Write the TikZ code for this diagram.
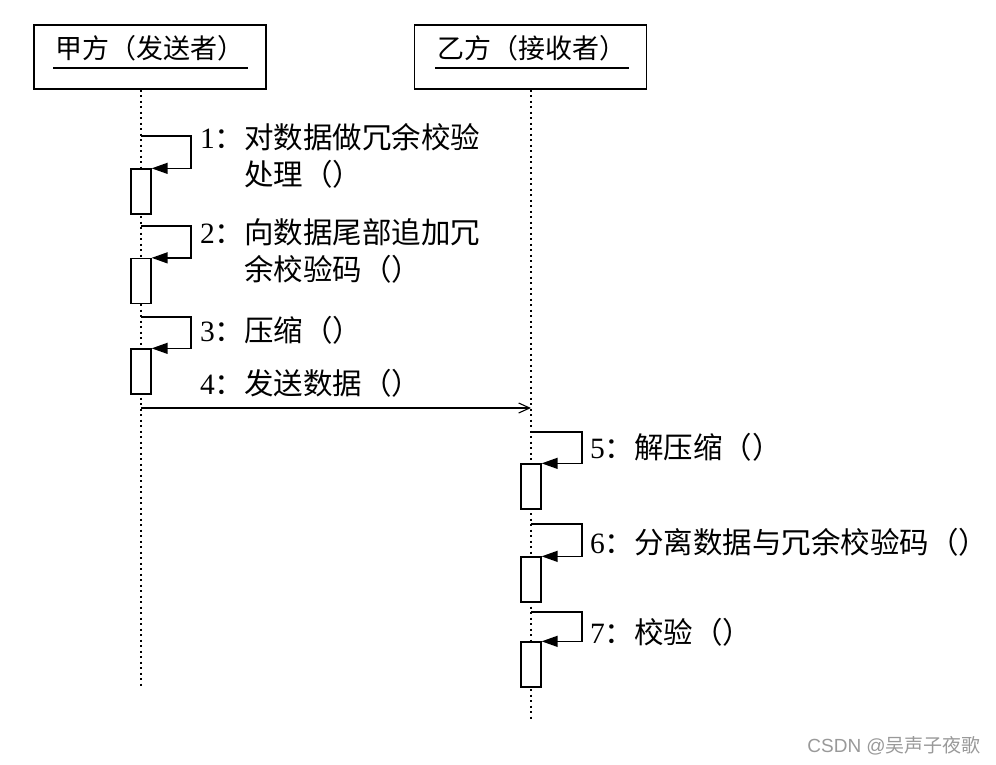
\documentclass[tikz,border=0pt]{standalone}
\usepackage{fontspec}
\setmainfont{Liberation Serif}
\newfontfamily\cjk{Noto Sans CJK SC}
\newfontfamily\wmfont{Liberation Sans}
\usetikzlibrary{arrows.meta}
\tikzset{
  actor/.style={draw, line width=1.4pt, minimum width=232pt, minimum height=64pt, inner sep=0pt},
  actortext/.style={anchor=base, inner sep=0pt, font=\fontsize{27}{37}\selectfont},
  lifeline/.style={line width=1.3pt, dash pattern=on 2pt off 3.5pt},
  actbox/.style={draw, fill=white, line width=1.3pt, minimum width=20pt, minimum height=45pt, inner sep=0pt},
  selfmsg/.style={line width=1.4pt, -{Triangle[length=16pt,width=11pt]}},
  msg/.style={line width=1.1pt, -{Straight Barb[length=11pt,width=10pt]}},
  lbl/.style={anchor=base west, inner sep=0pt, font=\fontsize{29.5}{37}\selectfont},
  uline/.style={line width=1.5pt}
}
\begin{document}
\begin{tikzpicture}[x=1pt,y=-1pt]
\useasboundingbox (0,0) rectangle (996,764);
% actors
\node[actor] (a1) at (150,57) {};
\node[actor] (a2) at (530.5,57) {};
\node[actortext] (t1) at (150,58) {{\cjk 甲方（发送者）}};
\node[actortext] (t2) at (532,58) {{\cjk 乙方（接收者）}};
\draw[uline] (53,68) -- (248,68);
\draw[uline] (435,68) -- (629,68);
% lifelines
\coordinate (e1) at (141,686);
\coordinate (e2) at (531,722);
\draw[lifeline] (a1.south -| e1) -- (e1);
\draw[lifeline] (a2.south -| e2) -- (e2);
% activation boxes
\node[actbox] (b1) at (141,191.5) {};
\node[actbox] (b2) at (141,281) {};
\node[actbox] (b3) at (141,371.5) {};
\node[actbox] (b5) at (531,486.5) {};
\node[actbox] (b6) at (531,579.5) {};
\node[actbox] (b7) at (531,664.5) {};
% self message start points
\coordinate (s1) at (141,136);
\coordinate (s2) at (141,226);
\coordinate (s3) at (141,317);
\coordinate (s5) at (531,432);
\coordinate (s6) at (531,524);
\coordinate (s7) at (531,612);
\draw[selfmsg] (s1) -- (191,136) |- (b1.north east);
\draw[selfmsg] (s2) -- (191,226) |- (b2.north east);
\draw[selfmsg] (s3) -- (191,317) |- (b3.north east);
\draw[selfmsg] (s5) -- (582,432) |- (b5.north east);
\draw[selfmsg] (s6) -- (582,524) |- (b6.north east);
\draw[selfmsg] (s7) -- (582,612) |- (b7.north east);
% message 4
\coordinate (m4s) at (141,408);
\coordinate (m4e) at (531,408);
\draw[msg] (m4s) -- (m4e);
% labels
\node[lbl] (l1) at (200,148) {\begin{tabular}[t]{@{}l@{}l@{}}1{\cjk ：} & {\cjk 对数据做冗余校验}\\ & {\cjk 处理（）}\end{tabular}};
\node[lbl] (l2) at (200,243) {\begin{tabular}[t]{@{}l@{}l@{}}2{\cjk ：} & {\cjk 向数据尾部追加冗}\\ & {\cjk 余校验码（）}\end{tabular}};
\node[lbl] (l3) at (200,341) {3{\cjk ：压缩（）}};
\node[lbl] (l4) at (200,394) {4{\cjk ：发送数据（）}};
\node[lbl] (l5) at (590,458) {5{\cjk ：解压缩（）}};
\node[lbl] (l6) at (590,553) {6{\cjk ：分离数据与冗余校验码（）}};
\node[lbl] (l7) at (590,643) {7{\cjk ：校验（）}};
% watermark
\node[anchor=base east, inner sep=0pt, text=gray!80, font=\fontsize{19}{22}\selectfont] (wm) at (981,752) {{\wmfont CSDN @}{\cjk 吴声子夜歌}};
\end{tikzpicture}
\end{document}
